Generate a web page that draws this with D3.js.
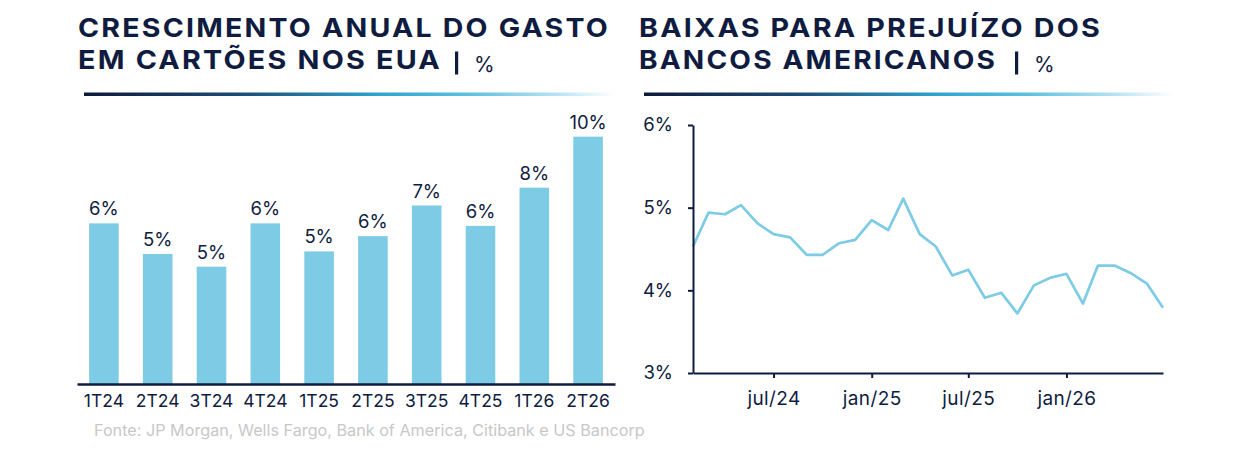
<!DOCTYPE html>
<html>
<head>
<meta charset="utf-8">
<script src="https://cdn.jsdelivr.net/npm/d3@7"></script>
<style>
  html, body { margin: 0; padding: 0; background: #fff; }
  svg text { font-family: "Inter", "DejaVu Sans", sans-serif; }
</style>
</head>
<body>
<div id="visualization"></div>
<script>
// ---- data ----
var quarters = ["1T24", "2T24", "3T24", "4T24", "1T25", "2T25", "3T25", "4T25", "1T26", "2T26"];
var spendGrowth = [6.3, 5.1, 4.6, 6.3, 5.2, 5.8, 7.0, 6.2, 7.7, 9.7];

var months = ["2024-02", "2024-03", "2024-04", "2024-05", "2024-06", "2024-07",
              "2024-08", "2024-09", "2024-10", "2024-11", "2024-12", "2025-01",
              "2025-02", "2025-03", "2025-04", "2025-05", "2025-06", "2025-07",
              "2025-08", "2025-09", "2025-10", "2025-11", "2025-12", "2026-01",
              "2026-02", "2026-03", "2026-04", "2026-05", "2026-06", "2026-07"];
var chargeOffs = [4.53, 4.94, 4.92, 5.03, 4.81, 4.68, 4.64, 4.43, 4.43, 4.57,
                  4.61, 4.85, 4.73, 5.11, 4.68, 4.53, 4.18, 4.25, 3.91, 3.97,
                  3.72, 4.06, 4.15, 4.20, 3.84, 4.30, 4.30, 4.21, 4.08, 3.79];
var lineTicks = ["2024-07", "2025-01", "2025-07", "2026-01"];
var pctTicks = [3, 4, 5, 6];
var monthNames = ["jan", "fev", "mar", "abr", "mai", "jun", "jul", "ago", "set", "out", "nov", "dez"];

var navy = "#0f1c3f";
var lightBlue = "#7ecbe6";

var width = 1240, height = 454;
var svg = d3.select("#visualization")
            .append("svg")
            .attr("width", width)
            .attr("height", height);

// gradient for the title rules
var defs = svg.append("defs");
var grad = defs.append("linearGradient")
               .attr("id", "rule")
               .attr("x1", "0%").attr("x2", "100%");
[[0, "#0d1a3c"], [0.3, "#1d4d78"], [0.55, "#2ea2cf"], [0.72, "#5bbfe1"], [0.88, "#b2e0f1"], [1, "#ffffff"]]
  .forEach(function(s) { grad.append("stop").attr("offset", s[0]).attr("stop-color", s[1]); });

// ---- titles ----
function title(x, line1, w1, line2, w2, barX, pctX, ruleX, ruleW) {
   [[line1, w1, 36.5], [line2, w2, 69]].forEach(function(l) {
      svg.append("text")
         .attr("x", x).attr("y", l[2])
         .attr("fill", navy)
         .style("font-size", "26px").style("font-weight", 700)
         .style("letter-spacing", "2px")
         .attr("textLength", l[1]).attr("lengthAdjust", "spacingAndGlyphs")
         .text(l[0]);
   });
   svg.append("rect")
      .attr("x", barX).attr("y", 51.5)
      .attr("width", 3.2).attr("height", 23)
      .attr("fill", navy);
   svg.append("text")
      .attr("x", pctX).attr("y", 71.5)
      .attr("fill", navy)
      .style("font-size", "21px").style("font-weight", 400)
      .text("%");
   svg.append("rect")
      .attr("x", ruleX).attr("y", 92.5)
      .attr("width", ruleW).attr("height", 3.5)
      .attr("fill", "url(#rule)");
}
title(78, "CRESCIMENTO ANUAL DO GASTO", 532, "EM CARTÕES NOS EUA", 364, 455, 474, 84, 531);
title(639, "BAIXAS PARA PREJUÍZO DOS", 463, "BANCOS AMERICANOS", 358, 1015, 1034, 644, 529);

// ---- bar chart ----
var x = d3.scaleBand()
          .domain(quarters)
          .range([77, 615])
          .paddingInner(0.45)
          .paddingOuter(0.225);

var y = d3.scaleLinear()
          .domain([0, 10])
          .range([384, 129]);

svg.append("g")
   .attr("fill", lightBlue)
   .selectAll("rect")
   .data(spendGrowth)
   .join("rect")
   .attr("x", function(d, i) { return x(quarters[i]); })
   .attr("width", x.bandwidth())
   .attr("y", function(d) { return y(d); })
   .attr("height", function(d) { return y(0) - y(d); });

svg.selectAll(".bar-value")
   .data(spendGrowth)
   .enter()
   .append("text")
   .attr("class", "bar-value")
   .attr("text-anchor", "middle")
   .attr("x", function(d, i) { return x(quarters[i]) + x.bandwidth() / 2; })
   .attr("y", function(d) { return y(d) - 8; })
   .attr("fill", navy)
   .style("font-size", "18.5px")
   .text(function(d) { return Math.round(d) + "%"; });

var xAxis = svg.append("g")
   .attr("transform", "translate(0,384)")
   .call(d3.axisBottom(x).tickSize(0).tickPadding(11));
xAxis.select(".domain").attr("stroke", navy).attr("stroke-width", 2.5);
xAxis.selectAll("text").attr("fill", navy).style("font-size", "17.5px");

svg.append("text")
   .attr("x", 94).attr("y", 435.5)
   .attr("fill", "#c8c8c8")
   .style("font-size", "16.2px")
   .text("Fonte: JP Morgan, Wells Fargo, Bank of America, Citibank e US Bancorp");

// ---- line chart ----
var parse = d3.timeParse("%Y-%m");
var dates = months.map(parse);

var xt = d3.scaleTime()
           .domain(d3.extent(dates))
           .range([693, 1163]);

var yl = d3.scaleLinear()
           .domain([3, 6])
           .range([373, 125]);

var line = d3.line()
             .x(function(d, i) { return xt(dates[i]); })
             .y(function(d) { return yl(d); });

svg.append("path")
   .datum(chargeOffs)
   .attr("fill", "none")
   .attr("stroke", lightBlue)
   .attr("stroke-width", 2.7)
   .attr("stroke-linejoin", "round")
   .attr("d", line);

var xtAxis = svg.append("g")
   .attr("transform", "translate(0,373)")
   .call(d3.axisBottom(xt)
           .tickValues(lineTicks.map(parse))
           .tickSizeInner(5).tickSizeOuter(0).tickPadding(14)
           .tickFormat(function(d) { return monthNames[d.getMonth()] + "/" + String(d.getFullYear()).slice(2); }));
xtAxis.select(".domain").attr("stroke", navy).attr("stroke-width", 2);
xtAxis.selectAll(".tick line").attr("stroke", navy).attr("stroke-width", 2);
xtAxis.selectAll("text").attr("fill", navy).style("font-size", "19px").style("letter-spacing", "0.4px");

var ylAxis = svg.append("g")
   .attr("transform", "translate(693,0)")
   .call(d3.axisLeft(yl)
           .tickValues(pctTicks)
           .tickSizeInner(5).tickSizeOuter(0).tickPadding(15)
           .tickFormat(function(d) { return d + "%"; }));
ylAxis.select(".domain").attr("stroke", navy).attr("stroke-width", 2);
ylAxis.selectAll(".tick line").attr("stroke", navy).attr("stroke-width", 2);
ylAxis.selectAll("text").attr("fill", navy).style("font-size", "18.5px");
</script>
</body>
</html>
